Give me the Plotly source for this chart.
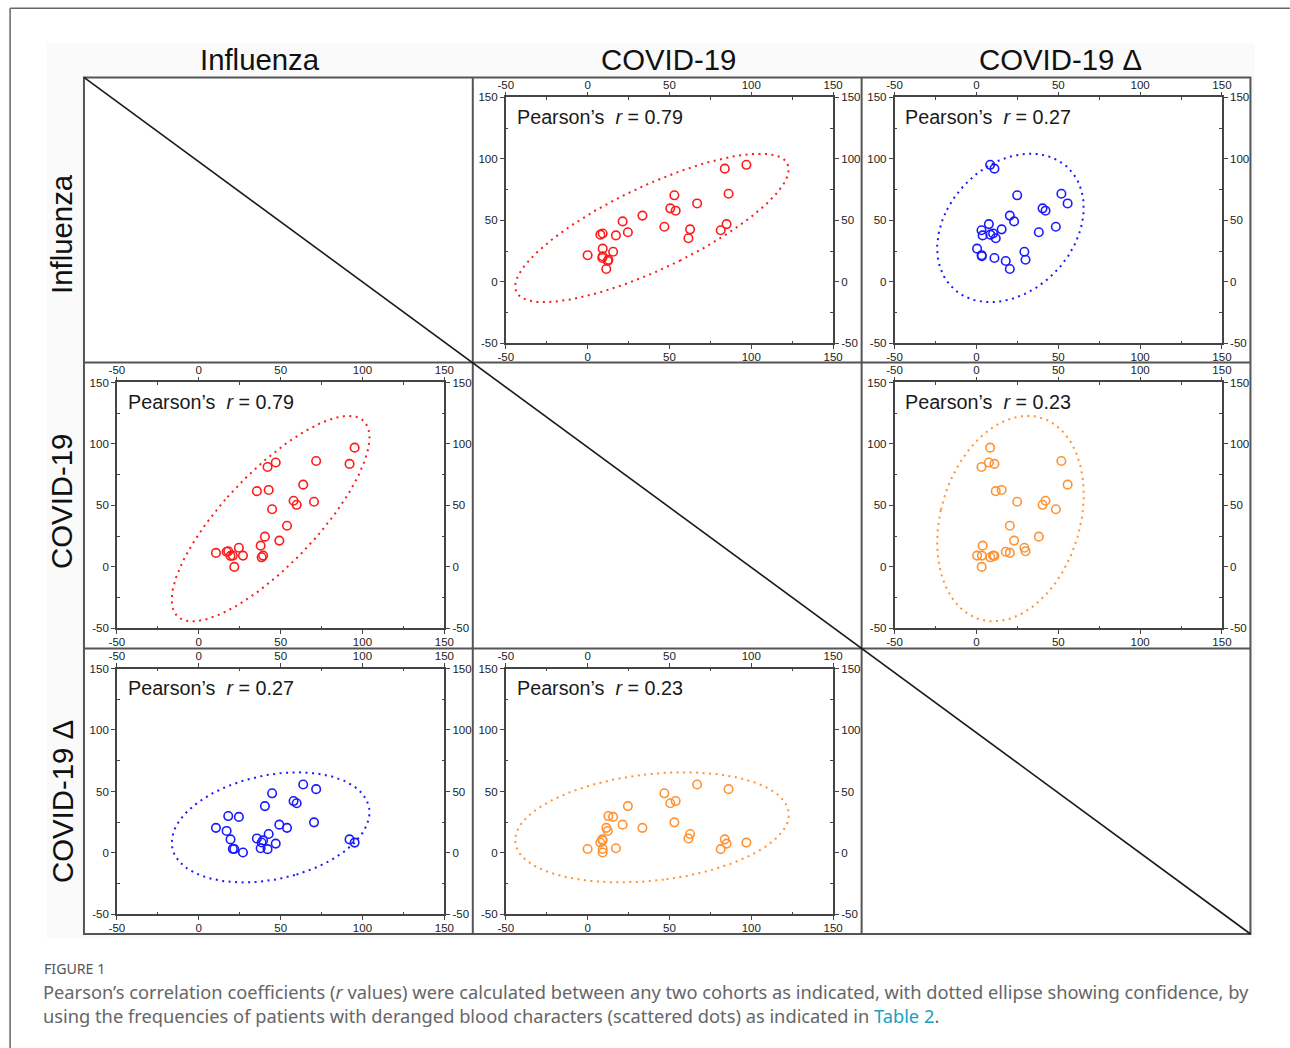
import numpy as np
import plotly.graph_objects as go

# ---------------- data ----------------
influenza = [10.5, 17.0, 18.0, 19.4, 20.8, 21.7, 24.5, 27.0, 37.8, 38.4, 39.3, 40.4, 42.0,
             47.0, 35.5, 42.7, 44.8, 49.2, 53.9, 57.9, 59.8, 63.8, 70.4, 71.7, 92.1, 95.2]
covid19 = [11.4, 12.3, 12.7, 9.0, 9.2, 0.0, 15.6, 9.2, 17.3, 7.8, 9.2, 24.6, 81.3,
           84.9, 61.6, 62.6, 46.9, 21.4, 33.5, 53.8, 50.5, 66.9, 53.0, 86.1, 83.8, 97.0]
covid19_delta = [20.4, 17.9, 30.0, 11.0, 3.3, 3.2, 29.3, 0.4, 3.8, 8.5, 10.2, 38.1, 3.1,
                 7.6, 11.8, 15.4, 48.5, 23.0, 20.4, 42.2, 40.4, 55.7, 24.9, 51.9, 11.0, 8.4]

cohort_names = ["Influenza", "COVID-19", "COVID-19 \u0394"]
cohort_data = [influenza, covid19, covid19_delta]
tick_vals = [-50, 0, 50, 100, 150]
tick_text = ["-50", "0", "50", "100", "150"]
minor_vals = [-25, 25, 75, 125]

# panels: x = column cohort, y = row cohort
panel_rows = [0, 0, 1, 1, 2, 2]
panel_cols = [1, 2, 0, 2, 0, 1]
panel_r = ["0.79", "0.27", "0.79", "0.23", "0.27", "0.23"]
RED, BLUE, ORANGE = "#ff1a1a", "#1a1aff", "#ff9233"
panel_colors = [RED, BLUE, RED, ORANGE, BLUE, ORANGE]

# ---------------- layout geometry (reference pixels) ----------------
W, H = 1290, 1048
PAD = 8
SX = (W + 2 * PAD) / W
SY = (H + 2 * PAD) / H
FS = SX
cols_x = [84, 473.5, 863, 1252.5]
rows_y = [79, 363, 648, 932.5]


def fx(px):
    return (px * SX - PAD) / W


def fy(py):
    return 1 - (py * SY - PAD) / H


def ax(letter, k):
    return letter if k == 1 else f"{letter}{k}"


def conf_ellipse(x, y, p=0.95, npts=240):
    x = np.asarray(x, float)
    y = np.asarray(y, float)
    n = len(x)
    cov = np.cov(x, y)
    nu = n - 2
    F = nu / 2 * ((1 - p) ** (-2 / nu) - 1)
    k = np.sqrt(2 * (n * n - 1) / (n * (n - 2)) * F)
    vals, vecs = np.linalg.eigh(cov)
    t = np.linspace(0, 2 * np.pi, npts)
    circ = np.vstack([np.cos(t), np.sin(t)]) * np.sqrt(vals)[:, None]
    pts = vecs @ circ * k
    return x.mean() + pts[0], y.mean() + pts[1]


fig = go.Figure()
layout = {}
annotations = []
AX_COL = "#444444"
ARIAL = "Liberation Sans, Arial, sans-serif"
tickfont = dict(size=11.4 * FS, color="#222222", family=ARIAL)

for i in range(6):
    k = i + 1
    r, c = panel_rows[i], panel_cols[i]
    left = cols_x[c] + 33
    right = cols_x[c] + 361
    top = rows_y[r] + 20
    bottom = rows_y[r] + 265
    xd = [fx(left), fx(right)]
    yd = [fy(bottom), fy(top)]
    xs = cohort_data[c]
    ys = cohort_data[r]
    color = panel_colors[i]

    common = dict(range=[-50, 150], showline=True, linecolor=AX_COL, linewidth=1.5,
                  ticks="outside", ticklen=4, tickwidth=1.2, tickcolor=AX_COL,
                  tickvals=tick_vals, ticktext=tick_text, tickfont=tickfont,
                  showgrid=False, zeroline=False, fixedrange=True,
                  minor=dict(tickvals=minor_vals, ticks="inside", ticklen=3,
                             tickwidth=1.2, tickcolor=AX_COL))
    layout[f"xaxis{k}"] = dict(domain=xd, anchor=ax("y", k), side="bottom",
                               ticklabelstandoff=-2, **common)
    layout[f"yaxis{k}"] = dict(domain=yd, anchor=ax("x", k), side="left", **common)
    layout[f"xaxis{k + 6}"] = dict(overlaying=ax("x", k), anchor=ax("y", k), side="top",
                                   ticklabelstandoff=-2, **common)
    layout[f"yaxis{k + 6}"] = dict(overlaying=ax("y", k), anchor=ax("x", k), side="right",
                                   **common)

    ex, ey = conf_ellipse(xs, ys)
    fig.add_trace(go.Scatter(x=ex, y=ey, mode="lines", xaxis=ax("x", k), yaxis=ax("y", k),
                             line=dict(color=color, width=2, dash="2px,4.5px"),
                             hoverinfo="skip", showlegend=False))
    fig.add_trace(go.Scatter(x=xs, y=ys, mode="markers", xaxis=ax("x", k), yaxis=ax("y", k),
                             marker=dict(symbol="circle-open", size=8.5, color=color,
                                         line=dict(width=1.6, color=color)),
                             showlegend=False))
    # helper traces so the label-only axes are drawn
    fig.add_trace(go.Scatter(x=[None], y=[None], xaxis=f"x{k + 6}", yaxis=ax("y", k),
                             showlegend=False, hoverinfo="skip"))
    fig.add_trace(go.Scatter(x=[None], y=[None], xaxis=ax("x", k), yaxis=f"y{k + 6}",
                             showlegend=False, hoverinfo="skip"))

    annotations.append(dict(xref=f"{ax('x', k)} domain", yref=f"{ax('y', k)} domain",
                            x=0.027, y=0.922, xanchor="left", yanchor="middle",
                            showarrow=False,
                            text=f"Pearson\u2019s  <i>r</i> = {panel_r[i]}",
                            font=dict(size=19.5 * FS, color="#1a1a1a", family=ARIAL)))

# column and row headers
title_font = dict(size=29 * FS, color="#111111", family=ARIAL)
col_centers = [260, 670, 1062]
row_centers = [235, 502, 801]
for j in range(3):
    annotations.append(dict(xref="paper", yref="paper", x=fx(col_centers[j]), y=fy(61),
                            xanchor="center", yanchor="middle", showarrow=False,
                            text=cohort_names[j], font=title_font))
    annotations.append(dict(xref="paper", yref="paper", x=fx(62), y=fy(row_centers[j]),
                            xanchor="center", yanchor="middle", showarrow=False,
                            textangle=-90, text=cohort_names[j], font=title_font))

# caption
cap_family = "Noto Sans, Open Sans, sans-serif"
annotations.append(dict(xref="paper", yref="paper", x=fx(42), y=fy(967), xanchor="left",
                        yanchor="middle", showarrow=False, text="FIGURE 1",
                        font=dict(size=14 * FS, color="#555555", family=cap_family)))
annotations.append(dict(xref="paper", yref="paper", x=fx(41), y=fy(989.5), xanchor="left",
                        yanchor="middle", showarrow=False,
                        text="Pearson\u2019s correlation coefficients (<i>r</i> values) were calculated "
                             "between any two cohorts as indicated, with dotted ellipse showing "
                             "confidence, by",
                        font=dict(size=18.05 * FS, color="#666666", family=cap_family)))
annotations.append(dict(xref="paper", yref="paper", x=fx(41), y=fy(1013.5), xanchor="left",
                        yanchor="middle", showarrow=False,
                        text="using the frequencies of patients with deranged blood characters "
                             "(scattered dots) as indicated in "
                             "<span style='color:#1b9fc0'>Table 2</span>.",
                        font=dict(size=18.05 * FS, color="#666666", family=cap_family)))

# shapes: page frame, faint background, grid, diagonal
GRID = "#555555"
X0, X1, Y0, Y1 = cols_x[0], cols_x[3], rows_y[0], rows_y[3]
shapes = [
    dict(type="rect", xref="paper", yref="paper", x0=fx(47), x1=fx(1257), y0=fy(45), y1=fy(937),
         fillcolor="#fafafa", line=dict(width=0), layer="below"),
    dict(type="rect", xref="paper", yref="paper", x0=fx(X0), x1=fx(X1), y0=fy(Y0), y1=fy(Y1),
         fillcolor="#ffffff", line=dict(width=0), layer="below"),
    dict(type="line", xref="paper", yref="paper", x0=fx(10), x1=fx(1292), y0=fy(10), y1=fy(10),
         line=dict(color="#666666", width=1.5)),
    dict(type="line", xref="paper", yref="paper", x0=fx(10), x1=fx(10), y0=fy(10), y1=fy(1050),
         line=dict(color="#666666", width=1.5)),
    dict(type="rect", xref="paper", yref="paper", x0=fx(X0), x1=fx(X1), y0=fy(Y0), y1=fy(Y1),
         line=dict(color=GRID, width=2)),
]
for xv in cols_x[1:3]:
    shapes.append(dict(type="line", xref="paper", yref="paper", x0=fx(xv), x1=fx(xv),
                       y0=fy(Y0), y1=fy(Y1), line=dict(color=GRID, width=2)))
for yv in rows_y[1:3]:
    shapes.append(dict(type="line", xref="paper", yref="paper", x0=fx(X0), x1=fx(X1),
                       y0=fy(yv), y1=fy(yv), line=dict(color=GRID, width=2)))
shapes.append(dict(type="line", xref="paper", yref="paper", x0=fx(X0), x1=fx(X1),
                   y0=fy(Y0), y1=fy(Y1), line=dict(color="#1a1a1a", width=1.6)))

fig.update_layout(width=W, height=H, margin=dict(l=0, r=0, t=0, b=0),
                  paper_bgcolor="#ffffff", plot_bgcolor="rgba(0,0,0,0)",
                  showlegend=False, annotations=annotations, shapes=shapes, **layout)

fig.write_html("out.html", config={"displayModeBar": False},
               post_script="document.body.style.margin='0';")
